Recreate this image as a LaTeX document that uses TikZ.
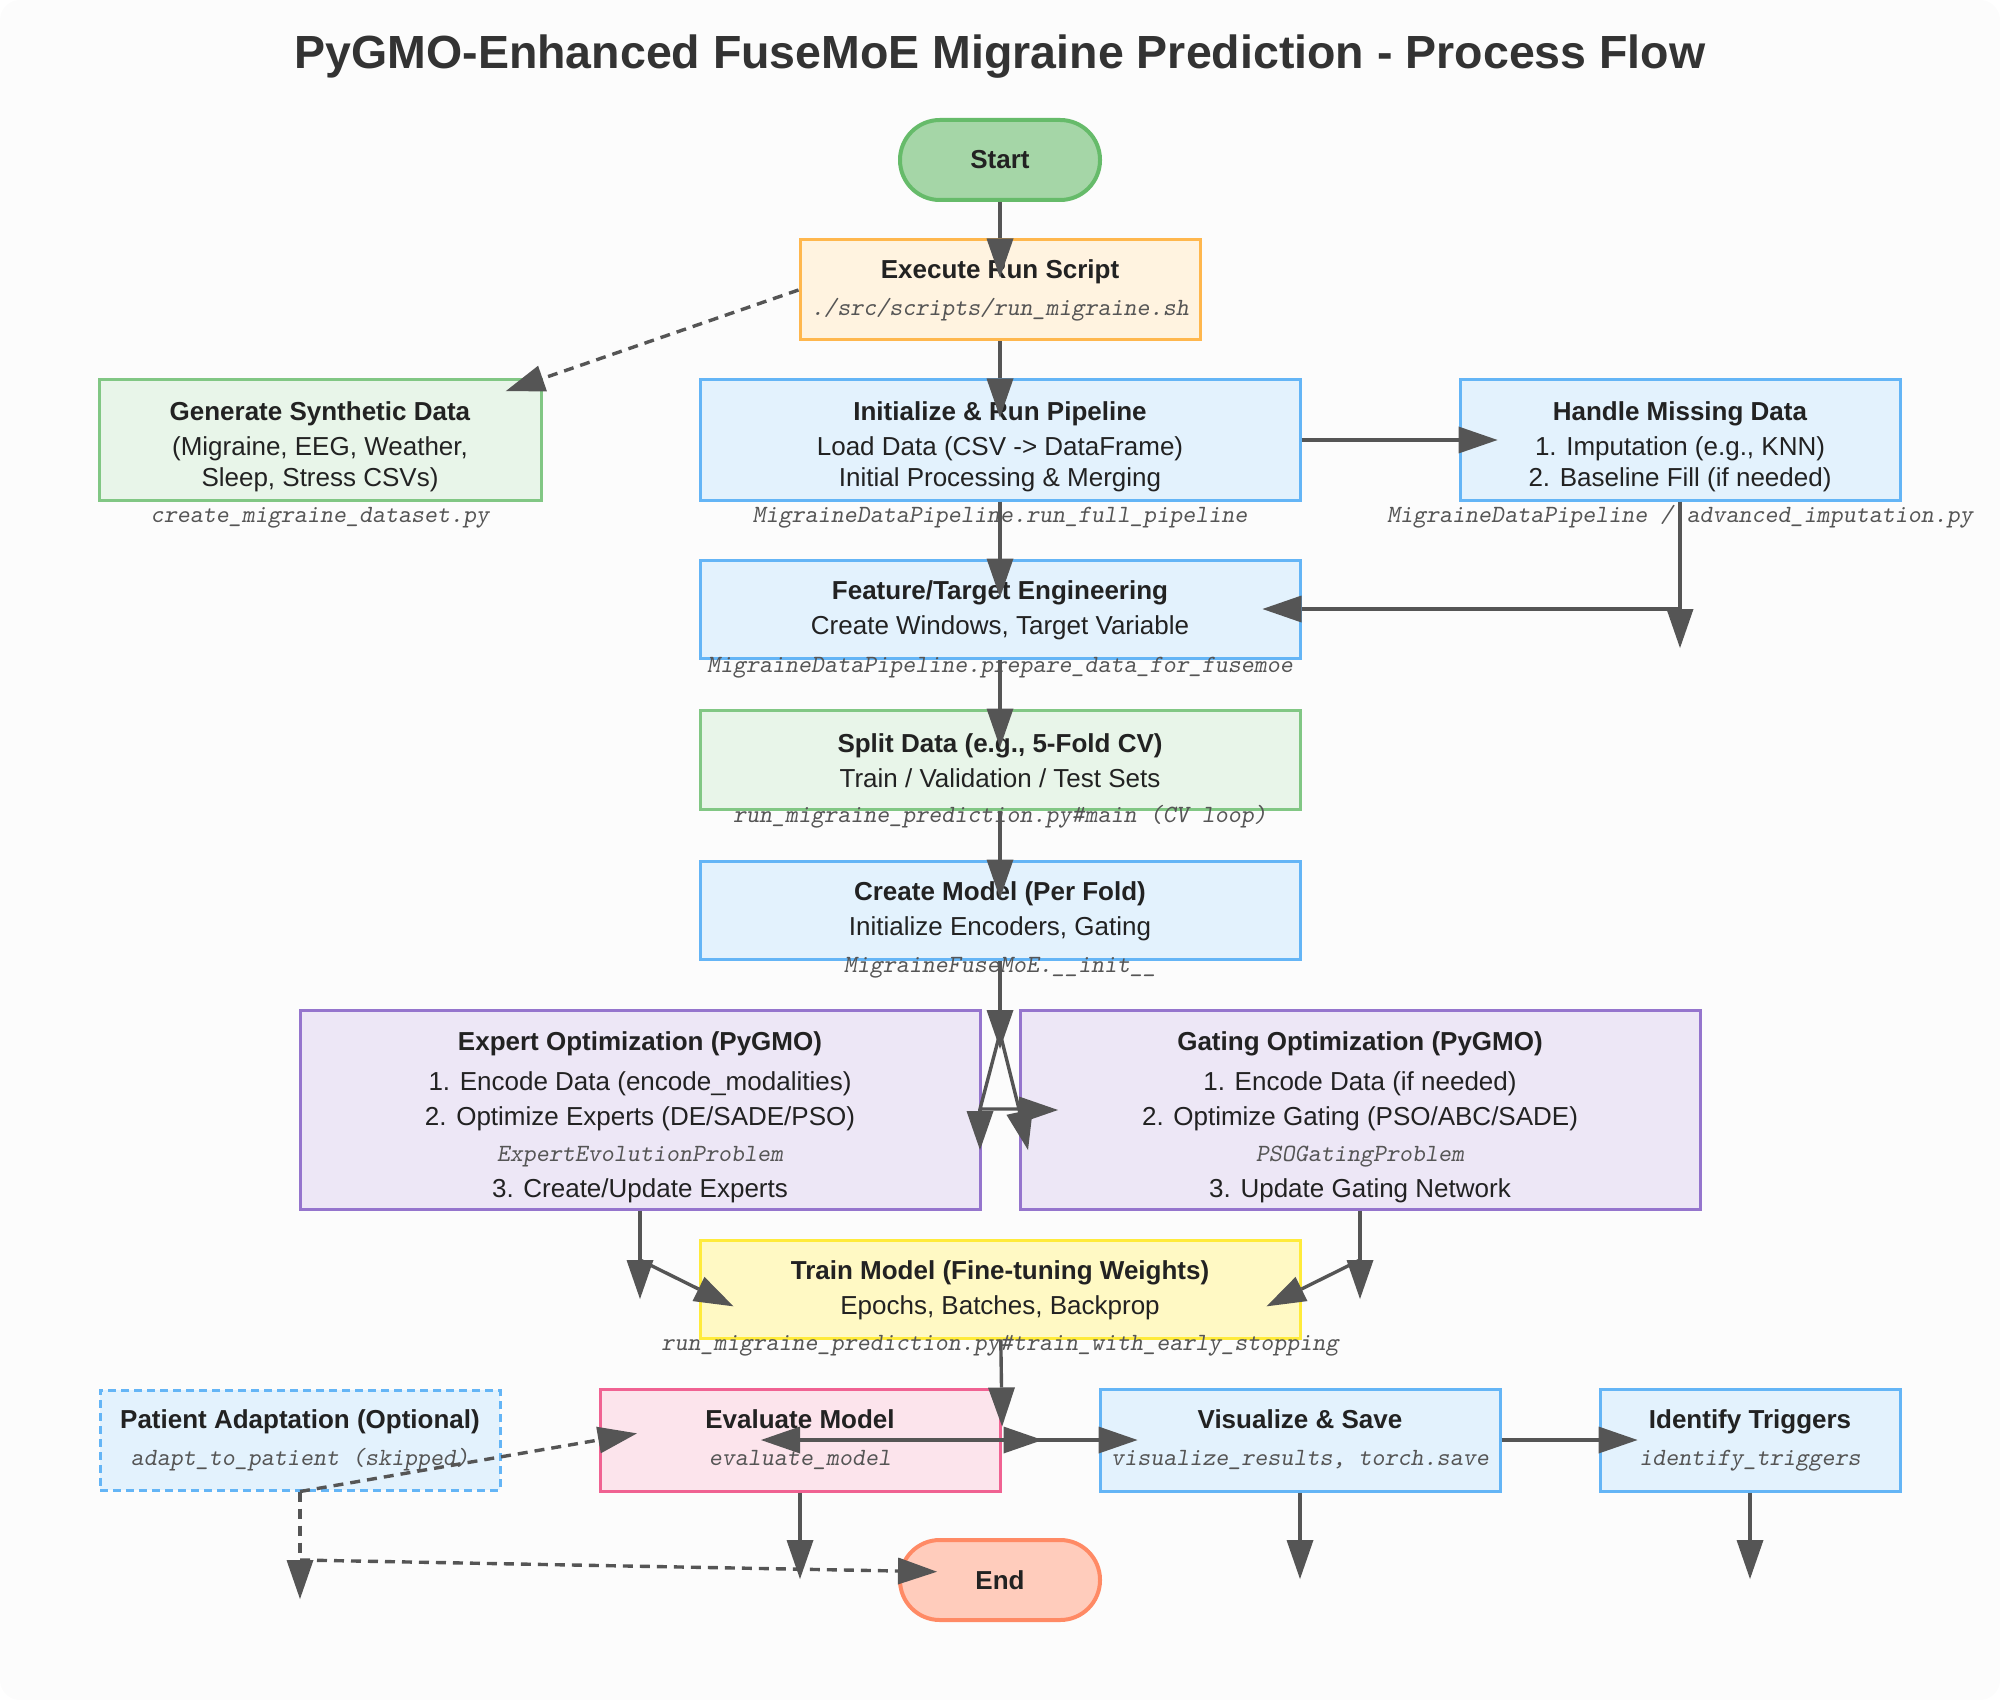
\documentclass[tikz,border=0pt]{standalone}
\usepackage{fontspec}
\setmainfont{Liberation Sans}
\newfontfamily\codefam{lmmonoslant10-regular.otf}
\usetikzlibrary{arrows.meta,calc}
\definecolor{cline}{HTML}{555555}
\definecolor{ctext}{HTML}{222222}
\definecolor{ctitle}{HTML}{333333}
\definecolor{cmono}{HTML}{555555}
\definecolor{cbg}{HTML}{FCFCFC}
\definecolor{gfill}{HTML}{A5D6A7}\definecolor{gdraw}{HTML}{66BB6A}
\definecolor{ofill}{HTML}{FFF3E0}\definecolor{odraw}{HTML}{FFB74D}
\definecolor{lgfill}{HTML}{E8F5E9}\definecolor{lgdraw}{HTML}{81C784}
\definecolor{bfill}{HTML}{E3F2FD}\definecolor{bdraw}{HTML}{64B5F6}
\definecolor{pfill}{HTML}{EDE7F6}\definecolor{pdraw}{HTML}{9575CD}
\definecolor{yfill}{HTML}{FFF9C4}\definecolor{ydraw}{HTML}{FFEB3B}
\definecolor{kfill}{HTML}{FCE4EC}\definecolor{kdraw}{HTML}{F06292}
\definecolor{efill}{HTML}{FFCCBC}\definecolor{edraw}{HTML}{FF8A65}
\newcommand\codefont{\fontsize{12.4pt}{14pt}\selectfont\codefam}
\newcommand\cd[1]{{\codefont\color{cmono}#1}}
\newcommand\mystrut[1]{\rule{0pt}{#1}}
\tikzset{
  box/.style={draw, line width=1.5pt, inner sep=0pt, align=center, text=ctext,
    font=\fontsize{13pt}{16pt}\selectfont},
  sz/.style 2 args={minimum width=#1*0.5pt, minimum height=#2*0.5pt},
  stad/.style={box, line width=2pt, rounded corners=19.9pt,
    font=\fontsize{13pt}{16pt}\selectfont\bfseries},
  bluebox/.style={box, fill=bfill, draw=bdraw},
  greenbox/.style={box, fill=lgfill, draw=lgdraw},
  purplebox/.style={box, fill=pfill, draw=pdraw},
  lbl/.style={inner sep=0pt, font=\codefont, text=cmono, anchor=base},
  ln/.style={draw=cline, line width=1.7pt},
  arr/.style={ln, ->, shorten >=-19.5pt},
  dng/.style={ln, ->},
  dsh/.style={dash pattern=on 5pt off 3.5pt},
}
\begin{document}
\begin{tikzpicture}[x=0.5pt,y=-0.5pt,
  >={Triangle[length=19.5pt,width=13.5pt,line width=0pt]}]
\useasboundingbox (0,0) rectangle (2000,1700);
\fill[cbg, rounded corners=10pt] (0,0) rectangle (2000,1700);

\node[font=\fontsize{23.25pt}{28pt}\selectfont\bfseries, text=ctitle, anchor=base, inner sep=0pt]
  (title) at (1000,69) {PyGMO-Enhanced FuseMoE Migraine Prediction - Process Flow};

% nodes
\node[stad, fill=gfill, draw=gdraw, sz={200}{80}] (start) at (1000,160) {Start};
\node[box, fill=ofill, draw=odraw, sz={400}{100}] (exec) at (1000,290)
  {\textbf{Execute Run Script}\\[2.5pt]\cd{./src/scripts/run\_migraine.sh}};
\node[greenbox, sz={442}{120}] (gen) at (320,440)
  {\mystrut{15.8pt}\textbf{Generate Synthetic Data}\\[1.5pt](Migraine, EEG, Weather,\\[-0.5pt]Sleep, Stress CSVs)};
\node[bluebox, sz={600}{120}] (init) at (1000,440)
  {\mystrut{15.8pt}\textbf{Initialize \& Run Pipeline}\\[1.5pt]Load Data (CSV -> DataFrame)\\[-0.5pt]Initial Processing \& Merging};
\node[bluebox, sz={440}{120}] (handle) at (1680,440)
  {\mystrut{15.8pt}\textbf{Handle Missing Data}\\[1.5pt]1. Imputation (e.g., KNN)\\[-0.5pt]2. Baseline Fill (if needed)};
\node[bluebox, sz={600}{98}] (feat) at (1000,609)
  {\mystrut{10.5pt}\textbf{Feature/Target Engineering}\\[1.8pt]Create Windows, Target Variable};
\node[greenbox, sz={600}{99}] (split) at (1000,759.5)
  {\mystrut{10.5pt}\textbf{Split Data (e.g., 5-Fold CV)}\\[1.8pt]Train / Validation / Test Sets};
\node[bluebox, sz={600}{98}] (create) at (1000,910)
  {\mystrut{10.5pt}\textbf{Create Model (Per Fold)}\\[1.8pt]Initialize Encoders, Gating};
\node[purplebox, sz={680}{199}] (expert) at (640,1109.5)
  {\mystrut{16.7pt}\textbf{Expert Optimization (PyGMO)}\\[4pt]1. Encode Data (encode\_modalities)\\[1.5pt]2. Optimize Experts (DE/SADE/PSO)\\[2.3pt]\cd{ExpertEvolutionProblem}\\[1.7pt]3. Create/Update Experts};
\node[purplebox, sz={680}{199}] (gating) at (1360,1109.5)
  {\mystrut{16.7pt}\textbf{Gating Optimization (PyGMO)}\\[4pt]1. Encode Data (if needed)\\[1.5pt]2. Optimize Gating (PSO/ABC/SADE)\\[2.3pt]\cd{PSOGatingProblem}\\[1.7pt]3. Update Gating Network};
\node[box, fill=yfill, draw=ydraw, sz={600}{98}] (train) at (1000,1289)
  {\mystrut{10.5pt}\textbf{Train Model (Fine-tuning Weights)}\\[1.8pt]Epochs, Batches, Backprop};
\node[bluebox, dash pattern=on 4pt off 2.5pt, sz={400}{100}] (patient) at (300,1440)
  {\textbf{Patient Adaptation (Optional)}\\[2.5pt]\cd{adapt\_to\_patient (skipped)}};
\node[box, fill=kfill, draw=kdraw, sz={400}{102}] (eval) at (800,1440)
  {\textbf{Evaluate Model}\\[2.5pt]\cd{evaluate\_model}};
\node[bluebox, sz={400}{102}] (vis) at (1300,1440)
  {\textbf{Visualize \& Save}\\[2.5pt]\cd{visualize\_results, torch.save}};
\node[bluebox, sz={300}{102}] (ident) at (1750,1440)
  {\textbf{Identify Triggers}\\[2.5pt]\cd{identify\_triggers}};
\node[stad, fill=efill, draw=edraw, sz={200}{80}] (endn) at (1000,1580) {End};

% code labels
\node[lbl] (genl) at (320,522) {create\_migraine\_dataset.py};
\node[lbl] (initl) at (1000,522) {MigraineDataPipeline.run\_full\_pipeline};
\node[lbl] (handlel) at (1680,522) {MigraineDataPipeline / advanced\_imputation.py};
\node[lbl] (featl) at (1000,672) {MigraineDataPipeline.prepare\_data\_for\_fusemoe};
\node[lbl] (splitl) at (1000,822) {run\_migraine\_prediction.py\#main (CV loop)};
\node[lbl] (createl) at (1000,972) {MigraineFuseMoE.\_\_init\_\_};
\node[lbl] (trainl) at (1000,1350) {run\_migraine\_prediction.py\#train\_with\_early\_stopping};

% helper coordinates
\coordinate (hm) at (1680,609);
\coordinate (cm) at (1000,1010);
\coordinate (apex) at (1000,1033);
\coordinate (al) at (980,1109);
\coordinate (ar) at (1019,1109);
\coordinate (ex1) at (640,1260);
\coordinate (gx1) at (1360,1260);
\coordinate (ed) at (800,1540);
\coordinate (vd) at (1300,1540);
\coordinate (idd) at (1750,1540);
\coordinate (pd) at (300,1560);

% connectors
\draw[arr] (start) -- (exec);
\draw[arr] (exec) -- (init);
\draw[arr, dsh] (exec.west) -- (gen.north east);
\draw[arr] (init) -- (handle);
\draw[arr] (init) -- (feat);
\draw[arr] (handle) -- (hm);
\draw[arr] (hm) -- (feat);
\draw[arr] (feat) -- (split);
\draw[arr] (split) -- (create);
\draw[arr] (create) -- (cm);
\draw[ln, line join=round] (al) -- (apex) -- (ar) -- cycle;
\draw[dng] (al) -- ++(0,41);
\draw[dng] (ar) -- ++(9,41);
\draw[dng] ($(ar)+(-1,1)$) -- ++(40,0);
\draw[arr] (expert) -- (ex1);
\draw[arr] (ex1) -- (train.west);
\draw[arr] (gating) -- (gx1);
\draw[arr] (gx1) -- (train.east);
\draw[arr] (train) -- (eval.north east);
\draw[arr] (eval.east) -- (eval.center);
\draw[dng] (eval.east) -- ++(41,0);
\draw[arr] (eval.east) -- (vis);
\draw[arr] (vis) -- (ident);
\draw[arr] (eval) -- (ed);
\draw[arr] (vis) -- (vd);
\draw[arr] (ident) -- (idd);
\draw[arr, dsh] (patient.south) -- (eval.west);
\draw[arr, dsh] (patient.south) -- (pd);
\draw[arr, dsh] (pd) -- ($(endn.west)+(0,-9)$);
\end{tikzpicture}
\end{document}
